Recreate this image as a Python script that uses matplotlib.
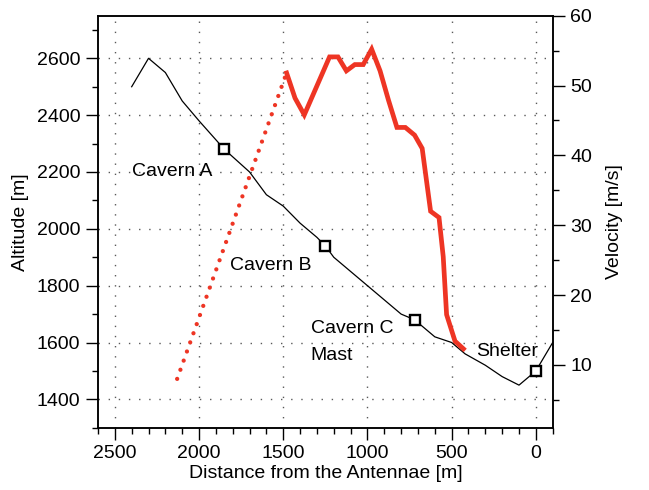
import numpy as np
import matplotlib
matplotlib.use('Agg')
import matplotlib.pyplot as plt
from matplotlib.ticker import MultipleLocator

# altitude profile along the line (distance from antennae [m], altitude [m])
profile_dist = [2400, 2300, 2200, 2100, 2000, 1850, 1700, 1600, 1500, 1400, 1300, 1250,
	1200, 1000, 800, 720, 680, 600, 500, 420, 300, 200, 100, 0, -100]
profile_alt = [2500, 2600, 2550, 2450, 2380, 2280, 2200, 2120, 2080, 2020, 1970, 1940,
	1900, 1800, 1700, 1680, 1660, 1620, 1600, 1560, 1520, 1480, 1450, 1500, 1600]

# stations marked with squares
station_dist = [1850, 1250, 720, 0]
station_alt = [2280, 1940, 1680, 1500]

# labels
label_text = ['Cavern A', 'Cavern B', 'Cavern C', 'Mast', 'Shelter']
label_dist = [2400, 1815, 1335, 1340, 357]
label_alt = [2200, 1870, 1651, 1553, 1568]

# measured velocity
vel_dist = [1480, 1430, 1375, 1225, 1175, 1125, 1075, 1025, 975, 925, 875, 825,
	775, 720, 675, 625, 575, 550, 530, 480, 430]
vel = [51.8, 48.2, 45.8, 54.1, 54.1, 52.1, 53.0, 53.0, 55.2, 52.1, 47.9, 44.0,
	44.0, 42.9, 41.0, 32.0, 31.1, 25.5, 17.2, 13.4, 12.3]

# acceleration part (dotted)
acc_dist = [2130, 1485]
acc_vel = [8.0, 51.5]

RED = '#ee3524'


def style_axis(ax):
	ax.tick_params(which='major', length=8.6, width=1, direction='out', pad=4)
	ax.tick_params(which='minor', length=4.3, width=1, direction='out')
	for sp in ax.spines.values():
		sp.set_linewidth(1.1)


def main():
	plt.rcParams['font.family'] = ['Liberation Sans', 'DejaVu Sans']
	plt.rcParams['font.size'] = 14

	fig = plt.figure(figsize=(6.49, 4.90), dpi=100)
	ax = fig.add_axes([0.151, 0.127, 0.7006, 0.841])
	ax2 = ax.twinx()

	ax.plot(profile_dist, profile_alt, color='black', lw=0.9, zorder=3)
	ax.plot(station_dist, station_alt, linestyle='none', marker='s', ms=7.5,
		mfc='white', mec='black', mew=1.7, zorder=4)
	for t, x, y in zip(label_text, label_dist, label_alt):
		ax.text(x, y, t, ha='left', va='center', fontsize=14, zorder=5)

	ax.set_xlim(2600, -100)
	ax.set_ylim(1300, 2750)
	ax.xaxis.set_major_locator(MultipleLocator(500))
	ax.xaxis.set_minor_locator(MultipleLocator(100))
	ax.yaxis.set_major_locator(MultipleLocator(200))
	ax.yaxis.set_minor_locator(MultipleLocator(100))
	ax.grid(True, which='major', color='0.35', lw=1, linestyle=(0, (1, 6.3)))
	ax.set_axisbelow(True)
	ax.set_xlabel('Distance from the Antennae [m]', labelpad=2)
	ax.set_ylabel('Altitude [m]', labelpad=6)
	style_axis(ax)

	ax2.plot(acc_dist, acc_vel, color=RED, lw=3.1, linestyle=(0, (0.001, 2.25)),
		dash_capstyle='round', zorder=3)
	ax2.plot(vel_dist, vel, color=RED, lw=3.4, solid_joinstyle='miter', zorder=3)
	ax2.set_ylim(1, 60)
	ax2.yaxis.set_major_locator(MultipleLocator(10))
	ax2.yaxis.set_minor_locator(MultipleLocator(5))
	ax2.set_ylabel('Velocity [m/s]', labelpad=10)
	style_axis(ax2)

	fig.savefig('out.png', dpi=100)


if __name__ == '__main__':
	main()
